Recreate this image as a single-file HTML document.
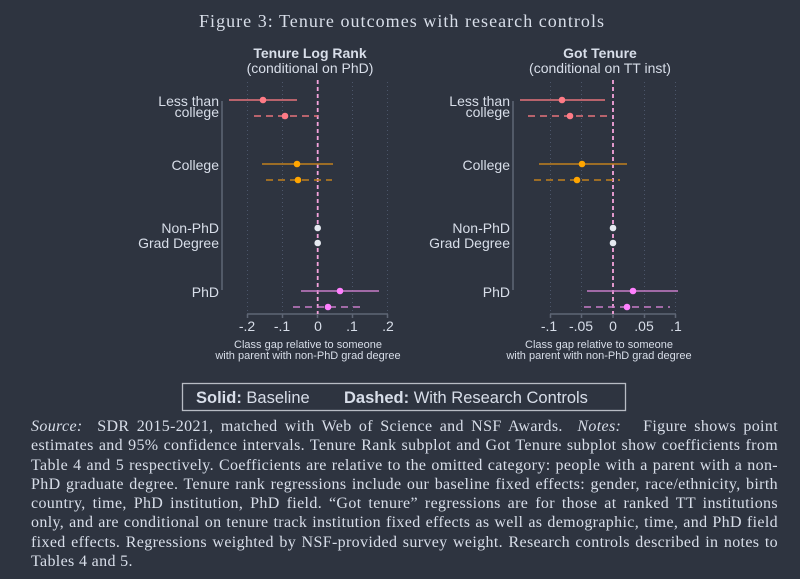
<!DOCTYPE html>
<html><head><meta charset="utf-8"><style>
body{margin:0;background:#2e3440;}
.w{position:relative;width:800px;height:579px;background:#2e3440;overflow:hidden}
.t{position:absolute;left:31px;width:747px;font-family:"Liberation Serif",serif;font-size:16px;letter-spacing:0.35px;color:#d8dee9;line-height:19.3px;}
.t div{text-align:justify;text-align-last:justify;white-space:nowrap;}
.t div.l{text-align-last:left}
</style></head><body><div class="w">
<svg width="800" height="420" style="position:absolute;left:0;top:0" font-family="Liberation Sans, sans-serif">
<text x="199" y="27" textLength="405" lengthAdjust="spacing" font-family="Liberation Serif, serif" font-size="18" fill="#d8dee9">Figure 3: Tenure outcomes with research controls</text>
<g fill="#d8dee9" text-anchor="middle">
<text x="310" y="58" font-size="14" font-weight="bold">Tenure Log Rank</text>
<text x="310" y="73" font-size="14">(conditional on PhD)</text>
<text x="600" y="58" font-size="14" font-weight="bold">Got Tenure</text>
<text x="600" y="73" font-size="14">(conditional on TT inst)</text>
</g>
<g stroke="#4c566a" stroke-dasharray="1,3" stroke-width="1">
<line x1="247.5" y1="82" x2="247.5" y2="313"/><line x1="282.5" y1="82" x2="282.5" y2="313"/><line x1="352.5" y1="82" x2="352.5" y2="313"/><line x1="387.5" y1="82" x2="387.5" y2="313"/>
<line x1="550.5" y1="82" x2="550.5" y2="313"/><line x1="581.5" y1="82" x2="581.5" y2="313"/><line x1="644.5" y1="82" x2="644.5" y2="313"/><line x1="675.5" y1="82" x2="675.5" y2="313"/>
</g>
<g stroke="#5e6675" stroke-width="1.5" fill="none">
<line x1="222" y1="101" x2="222" y2="290"/><line x1="513" y1="101" x2="513" y2="290"/>
<line x1="247" y1="314" x2="388" y2="314"/><line x1="550" y1="314" x2="676" y2="314"/>
<line x1="247.5" y1="314" x2="247.5" y2="318"/><line x1="282.5" y1="314" x2="282.5" y2="318"/><line x1="317.5" y1="314" x2="317.5" y2="318"/><line x1="352.5" y1="314" x2="352.5" y2="318"/><line x1="387.5" y1="314" x2="387.5" y2="318"/>
<line x1="550.5" y1="314" x2="550.5" y2="318"/><line x1="581.5" y1="314" x2="581.5" y2="318"/><line x1="613" y1="314" x2="613" y2="318"/><line x1="644.5" y1="314" x2="644.5" y2="318"/><line x1="675.5" y1="314" x2="675.5" y2="318"/>
</g>
<g fill="#d8dee9" font-size="14" text-anchor="middle">
<text x="247" y="331">-.2</text><text x="282" y="331">-.1</text><text x="318" y="331">0</text><text x="352" y="331">.1</text><text x="388" y="331">.2</text>
<text x="549" y="331">-.1</text><text x="581" y="331">-.05</text><text x="613" y="331">0</text><text x="644" y="331">.05</text><text x="676" y="331">.1</text>
</g>
<g fill="#d8dee9" font-size="11" text-anchor="middle">
<text x="308" y="348">Class gap relative to someone</text><text x="308" y="359">with parent with non-PhD grad degree</text>
<text x="599" y="348">Class gap relative to someone</text><text x="599" y="359">with parent with non-PhD grad degree</text>
</g>
<g fill="#d8dee9" font-size="14" text-anchor="end">
<text x="219" y="106">Less than</text><text x="219" y="117">college</text>
<text x="219" y="170">College</text>
<text x="219" y="233">Non-PhD</text><text x="219" y="248">Grad Degree</text>
<text x="219" y="297">PhD</text>
<text x="510" y="106">Less than</text><text x="510" y="117">college</text>
<text x="510" y="170">College</text>
<text x="510" y="233">Non-PhD</text><text x="510" y="248">Grad Degree</text>
<text x="510" y="297">PhD</text>
</g>
<g stroke="#f5a3dc" stroke-width="1.8" stroke-dasharray="4,3">
<line x1="317.7" y1="80" x2="317.7" y2="314"/><line x1="613" y1="80" x2="613" y2="314"/>
</g>
<g stroke-width="1.5">
<line x1="229" y1="100" x2="297" y2="100" stroke="#e5737a"/>
<line x1="254" y1="116" x2="318" y2="116" stroke="#e5737a" stroke-dasharray="7,5"/>
<line x1="262" y1="164" x2="333" y2="164" stroke="#c0801e"/>
<line x1="266" y1="180" x2="332" y2="180" stroke="#c0801e" stroke-dasharray="7,5"/>
<line x1="301" y1="291" x2="379" y2="291" stroke="#c77dc7"/>
<line x1="293" y1="307" x2="361" y2="307" stroke="#c77dc7" stroke-dasharray="7,5"/>
<line x1="520" y1="100" x2="605" y2="100" stroke="#e5737a"/>
<line x1="528" y1="116" x2="608" y2="116" stroke="#e5737a" stroke-dasharray="7,5"/>
<line x1="539" y1="164" x2="627" y2="164" stroke="#c0801e"/>
<line x1="534" y1="180" x2="620" y2="180" stroke="#c0801e" stroke-dasharray="7,5"/>
<line x1="587" y1="291" x2="678" y2="291" stroke="#c77dc7"/>
<line x1="584" y1="307" x2="670" y2="307" stroke="#c77dc7" stroke-dasharray="7,5"/>
</g>
<g>
<circle cx="263" cy="100" r="3.3" fill="#ff7b86"/><circle cx="285" cy="116" r="3.3" fill="#ff7b86"/>
<circle cx="297" cy="164" r="3.3" fill="#ffa500"/><circle cx="298" cy="180" r="3.3" fill="#ffa500"/>
<circle cx="317.7" cy="228" r="3.3" fill="#e5e9f0"/><circle cx="317.7" cy="243" r="3.3" fill="#e5e9f0"/>
<circle cx="340" cy="291" r="3.3" fill="#ff80ff"/><circle cx="328" cy="307" r="3.3" fill="#ff80ff"/>
<circle cx="562" cy="100" r="3.3" fill="#ff7b86"/><circle cx="570" cy="116" r="3.3" fill="#ff7b86"/>
<circle cx="582" cy="164" r="3.3" fill="#ffa500"/><circle cx="577" cy="180" r="3.3" fill="#ffa500"/>
<circle cx="613" cy="228" r="3.3" fill="#e5e9f0"/><circle cx="613" cy="243" r="3.3" fill="#e5e9f0"/>
<circle cx="633" cy="291" r="3.3" fill="#ff80ff"/><circle cx="627" cy="307" r="3.3" fill="#ff80ff"/>
</g>
<rect x="182.5" y="383.5" width="443" height="27" fill="none" stroke="#b8bcc4" stroke-width="1.3"/>
<text y="403" font-size="16.5" fill="#d8dee9"><tspan x="196" font-weight="bold">Solid:</tspan><tspan> Baseline</tspan><tspan x="344" font-weight="bold">Dashed:</tspan><tspan> With Research Controls</tspan></text>
</svg>
<div class="t" style="top:417px">
<div><i>Source:</i>&nbsp; SDR 2015-2021, matched with Web of Science and NSF Awards. &nbsp;<i>Notes:</i>&nbsp;&nbsp; Figure shows point</div>
<div>estimates and 95% confidence intervals. Tenure Rank subplot and Got Tenure subplot show coefficients from</div>
<div>Table 4 and 5 respectively. Coefficients are relative to the omitted category: people with a parent with a non-</div>
<div>PhD graduate degree. Tenure rank regressions include our baseline fixed effects: gender, race/ethnicity, birth</div>
<div>country, time, PhD institution, PhD field. “Got tenure” regressions are for those at ranked TT institutions</div>
<div>only, and are conditional on tenure track institution fixed effects as well as demographic, time, and PhD field</div>
<div>fixed effects. Regressions weighted by NSF-provided survey weight. Research controls described in notes to</div>
<div class="l">Tables 4 and 5.</div>
</div>
</div></body></html>
